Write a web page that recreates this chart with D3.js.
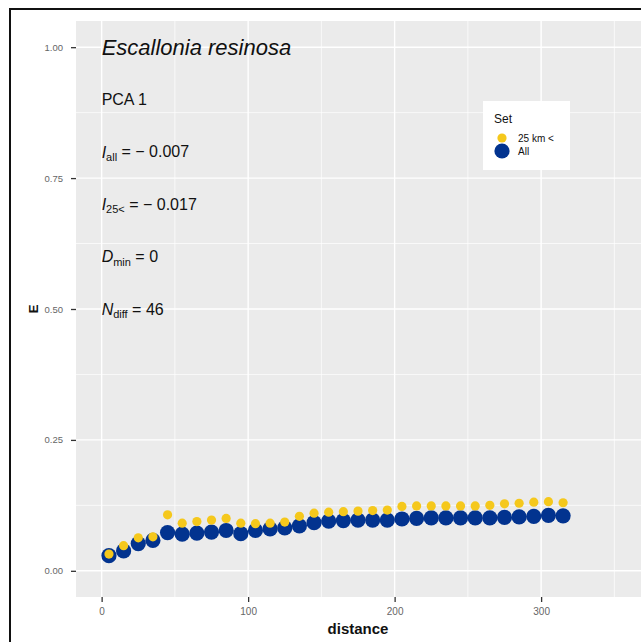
<!DOCTYPE html>
<html><head><meta charset="utf-8">
<script src="https://cdn.jsdelivr.net/npm/d3@7"></script>
<style>
html,body{margin:0;padding:0;background:#fff;}
svg{display:block;font-family:"Liberation Sans",Arial,sans-serif;}
</style></head>
<body>
<svg id="chart" width="641" height="642"></svg>
<script>
// ---- data ----
const distance = [5,15,25,35,45,55,65,75,85,95,105,115,125,135,145,155,165,175,185,195,205,215,225,235,245,255,265,275,285,295,305,315];
const allValues = [0.029,0.038,0.052,0.058,0.073,0.070,0.072,0.074,0.077,0.071,0.077,0.080,0.082,0.086,0.092,0.095,0.096,0.097,0.097,0.097,0.099,0.100,0.101,0.101,0.101,0.101,0.101,0.102,0.103,0.104,0.106,0.105];
const over25Values = [0.032,0.048,0.063,0.065,0.107,0.091,0.094,0.097,0.100,0.091,0.090,0.091,0.093,0.104,0.110,0.112,0.113,0.114,0.115,0.116,0.123,0.124,0.124,0.124,0.124,0.124,0.125,0.128,0.129,0.131,0.132,0.130];
const xTicks = [0,100,200,300];
const xMinor = [50,150,250,350];
const yTicks = [0,0.25,0.5,0.75,1];
const yMinor = [0.125,0.375,0.625,0.875];
const seriesNames = ["25 km <","All"];
const seriesColors = ["#F5C81C","#02338F"];

const svg = d3.select("#chart");
const W = 641, H = 642;

// outer frame
svg.append("rect").attr("x",10).attr("y",9).attr("width",W+10).attr("height",H+10)
  .attr("fill","#fff").attr("stroke","#111").attr("stroke-width",2);

const panel = {left:76, top:21, right:641, bottom:597};
const x = d3.scaleLinear().domain([-17.5,367.5]).range([panel.left, 640]);
const y = d3.scaleLinear().domain([-0.05,1.05]).range([panel.bottom, panel.top]);

const g = svg.append("g");
g.append("rect").attr("x",panel.left).attr("y",panel.top)
  .attr("width",panel.right-panel.left).attr("height",panel.bottom-panel.top).attr("fill","#EBEBEB");

// grid
g.selectAll(".ymin").data(yMinor).join("line").attr("x1",panel.left).attr("x2",panel.right)
  .attr("y1",d=>y(d)).attr("y2",d=>y(d)).attr("stroke","#fff").attr("stroke-width",0.7);
g.selectAll(".xmin").data(xMinor).join("line").attr("y1",panel.top).attr("y2",panel.bottom)
  .attr("x1",d=>x(d)).attr("x2",d=>x(d)).attr("stroke","#fff").attr("stroke-width",0.7);
g.selectAll(".ymaj").data(yTicks).join("line").attr("x1",panel.left).attr("x2",panel.right)
  .attr("y1",d=>y(d)).attr("y2",d=>y(d)).attr("stroke","#fff").attr("stroke-width",1.4);
g.selectAll(".xmaj").data(xTicks).join("line").attr("y1",panel.top).attr("y2",panel.bottom)
  .attr("x1",d=>x(d)).attr("x2",d=>x(d)).attr("stroke","#fff").attr("stroke-width",1.4);

// axes
const xAxis = d3.axisBottom(x).tickValues(xTicks).tickSize(5).tickPadding(6).tickFormat(d3.format("d"));
const gx = svg.append("g").attr("transform",`translate(0,${panel.bottom})`).call(xAxis);
gx.select(".domain").remove();
gx.selectAll(".tick line").attr("stroke","#333").attr("stroke-width",1.3);
gx.selectAll(".tick text").attr("fill","#666").attr("font-size",10).attr("font-family","Liberation Sans, Arial, sans-serif");

const yAxis = d3.axisLeft(y).tickValues(yTicks).tickSize(5).tickPadding(8).tickFormat(d3.format(".2f"));
const gy = svg.append("g").attr("transform",`translate(${panel.left},0)`).call(yAxis);
gy.select(".domain").remove();
gy.selectAll(".tick line").attr("stroke","#333").attr("stroke-width",1.3);
gy.selectAll(".tick text").attr("fill","#666").attr("font-size",9.5).attr("font-family","Liberation Sans, Arial, sans-serif");

// axis titles
svg.append("text").attr("x",(panel.left+640)/2).attr("y",634).attr("text-anchor","middle")
  .attr("font-weight","bold").attr("font-size",15).attr("fill","#111").text("distance");
svg.append("text").attr("transform",`translate(38,${y(0.5)}) rotate(-90)`).attr("text-anchor","middle")
  .attr("font-weight","bold").attr("font-size",13).attr("fill","#111").text("E");

// points: All (big blue) then 25 km < (small yellow) on top
const data = distance.map((d,i)=>({d, all:allValues[i], o25:over25Values[i]}));
g.selectAll(".all").data(data).join("circle").attr("cx",d=>x(d.d)).attr("cy",d=>y(d.all))
  .attr("r",7.6).attr("fill",seriesColors[1]);
g.selectAll(".o25").data(data).join("circle").attr("cx",d=>x(d.d)).attr("cy",d=>y(d.o25))
  .attr("r",4.6).attr("fill",seriesColors[0]);

// annotations
const tx = x(0);
svg.append("text").attr("x",tx).attr("y",y(1.0)).attr("dy","0.35em").attr("font-size",22)
  .attr("font-style","italic").attr("fill","#111").text("Escallonia resinosa");
svg.append("text").attr("x",tx).attr("y",y(0.9)).attr("dy","0.35em").attr("font-size",16)
  .attr("fill","#111").text("PCA 1");
function subLabel(yv, main, sub, rest){
  const t = svg.append("text").attr("x",tx).attr("y",y(yv)).attr("dy","0.35em").attr("font-size",16).attr("fill","#111");
  t.append("tspan").attr("font-style","italic").text(main);
  t.append("tspan").attr("font-size",11).attr("dy","0.3em").text(sub);
  t.append("tspan").attr("dy","-0.21em").text(rest);
}
subLabel(0.8,"I","all"," = \u2212 0.007");
subLabel(0.7,"I","25<"," = \u2212 0.017");
subLabel(0.6,"D","min"," = 0");
subLabel(0.5,"N","diff"," = 46");

// legend
const lg = svg.append("g");
lg.append("rect").attr("x",483).attr("y",101).attr("width",87).attr("height",69).attr("fill","#fff");
lg.append("text").attr("x",494).attr("y",123).attr("font-size",12).attr("fill","#111").text("Set");
const keyY = [138,151];
const keyR = [4.6,7.6];
seriesNames.forEach((n,i)=>{
  lg.append("circle").attr("cx",502).attr("cy",keyY[i]).attr("r",keyR[i]).attr("fill",seriesColors[i]);
  lg.append("text").attr("x",518).attr("y",keyY[i]).attr("dy","0.35em").attr("font-size",10).attr("fill","#111").text(n);
});
</script>
</body></html>
